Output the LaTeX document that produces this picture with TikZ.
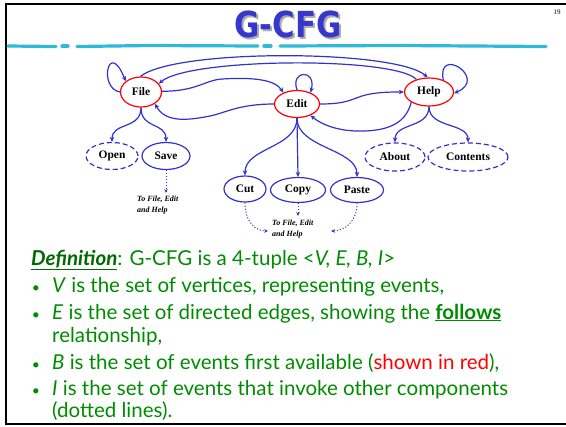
\documentclass[tikz,border=0pt]{standalone}
\usepackage{fontspec}
\setmainfont{Liberation Serif}
\newfontfamily\bodyfont{Lato}
\newfontfamily\titlefont{DejaVu Sans}
\usetikzlibrary{arrows.meta,shapes.geometric}
\definecolor{eblue}{RGB}{51,51,204}
\definecolor{ered}{RGB}{255,0,0}
\definecolor{tgreen}{RGB}{0,140,0}
\definecolor{dgreen}{RGB}{0,105,0}
\definecolor{tblue}{RGB}{55,55,205}
\definecolor{cyanl}{RGB}{45,185,215}
\newcommand{\titletext}{\titlefont\bfseries\fontsize{36}{36}\selectfont\scalebox{0.86}[1]{G-CFG}}
\tikzset{
  ev/.style={ellipse, draw=eblue, line width=1.2bp, inner sep=0pt, font=\fontsize{11.5}{12}\selectfont\bfseries},
  first/.style={ev, draw=ered},
  ext/.style={ev, dash pattern=on 5bp off 3bp},
  edge/.style={draw=eblue, line width=1.2bp, -{Stealth[length=5bp,width=4.5bp]}},
  inv/.style={draw=eblue, line width=0.9bp, dash pattern=on 1.2bp off 1.8bp, -{Stealth[length=4bp,width=3.5bp]}},
  lab/.style={inner sep=0pt, align=left, font=\fontsize{8}{11}\selectfont\bfseries\itshape},
  body/.style={inner sep=0pt, anchor=base west, text=tgreen, font=\bodyfont\fontsize{20.6}{24}\selectfont},
  bul/.style={inner sep=0pt, anchor=base, text=tgreen, font=\bodyfont\fontsize{14}{16}\selectfont},
  cyanseg/.style={draw=cyanl, line width=3.2bp, line cap=round}
}
\begin{document}
\begin{tikzpicture}[x=1bp,y=-1bp]
\useasboundingbox (0,0) rectangle (566,426);
% frame
\draw[line width=2bp] (566,4) -- (6,4) -- (6,423.5) -- (566,423.5);
% page number
\node[inner sep=0pt, font=\fontsize{7}{7}\selectfont] (pg) at (557,12) {19};
% title with shadow
\node[inner sep=0pt, text=tblue] (title) at (288,25) {\rlap{\hspace{2bp}\raisebox{-2bp}{\textcolor{gray!65}{\titletext}}}\titletext};
% cyan rule
\draw[cyanseg] (8,46) -- (56,46.5);
\draw[cyanseg] (62,46) -- (68,46);
\draw[cyanseg] (77,46.5) -- (150,45.5) -- (258,46);
\draw[cyanseg] (264,46) -- (271,46);
\draw[cyanseg] (280,46) -- (400,45.5) -- (546,46.5);
% nodes
\node[first, minimum width=41bp, minimum height=30bp] (file) at (141,92) {File};
\node[first, minimum width=45bp, minimum height=27bp] (edit) at (297,104) {Edit};
\node[first, minimum width=49bp, minimum height=28bp] (help) at (429,92) {Help};
\node[ext, minimum width=52bp, minimum height=27bp] (open) at (112,156) {Open};
\node[ev, minimum width=48bp, minimum height=27bp] (save) at (166,156) {Save};
\node[ev, minimum width=42bp, minimum height=26bp] (cut) at (245,189) {Cut};
\node[ev, minimum width=55bp, minimum height=25bp] (copy) at (298,190) {Copy};
\node[ev, minimum width=53bp, minimum height=25bp] (paste) at (357,190) {Paste};
\node[ext, minimum width=60bp, minimum height=28bp] (about) at (395,157) {About};
\node[ext, minimum width=80bp, minimum height=28bp] (contents) at (468,157) {Contents};
% labels
\node[lab, anchor=north west] (lab1) at (137,196) {To File, Edit\\and Help};
\node[lab, anchor=north west] (lab2) at (272,220) {To File, Edit\\and Help};
% solid edges
\draw[edge] (file.180) .. controls +(-22,-4) and +(-17,-43) .. (file.145);
\draw[edge] (edit.90) .. controls +(-7,-20) and +(6,-24) .. (edit.40);
\draw[edge] (help.40) .. controls +(-7,-35) and +(35,-15) .. (help.-3);
\draw[edge] (file.92) .. controls +(35,-28) and +(-32,-28) .. (help.95);
\draw[edge] (help.135) .. controls +(-22,-23) and +(30,-26) .. (file.25);
\draw[edge] (file.2) .. controls +(35,0) and (205,80) .. (222,79) .. controls (255,77) and (275,80) .. (edit.140);
\draw[edge] (edit.180) .. controls +(-35,0) and (225,113) .. (210,116) .. controls (185,121) and (165,122) .. (file.-40);
\draw[edge] (edit.0) .. controls +(25,0) and (350,100) .. (362,96) .. controls (375,92) and (390,92) .. (help.180);
\draw[edge] (help.210) .. controls +(-5,20) and (390,130) .. (365,131) .. controls (340,132) and (322,125) .. (edit.-40);
\draw[edge] (file.-90) .. controls +(0,22) and +(0,-20) .. (open.90);
\draw[edge] (file.-90) .. controls +(0,22) and +(0,-20) .. (save.90);
\draw[edge] (edit.-90) .. controls +(0,30) and +(0,-28) .. (cut.90);
\draw[edge] (edit.-90) -- (copy.90);
\draw[edge] (edit.-90) .. controls +(0,30) and +(0,-28) .. (paste.90);
\draw[edge] (help.-90) .. controls +(0,22) and +(0,-20) .. (about.90);
\draw[edge] (help.-90) .. controls +(0,22) and +(0,-20) .. (contents.90);
% dotted invocation edges
\coordinate (d1) at (166,193);
\coordinate (d2) at (268,231);
\coordinate (d3) at (298,216);
\coordinate (d4) at (331,231);
\draw[inv] (save.south) -- (d1);
\draw[inv] (cut.south) .. controls +(0,20) and +(-12,0) .. (d2);
\draw[inv] (copy.south) -- (d3);
\draw[inv] (paste.south) .. controls +(0,20) and +(12,0) .. (d4);
% text
\node[body] (l0) at (31,265) {\textcolor{dgreen}{\underline{\textbf{\textit{Definition}}}}: G-CFG is a 4-tuple <\textit{V, E, B, I}>};
\node[bul] (b1) at (36,292) {•};
\node[body] (l1) at (52,292) {\textit{V} is the set of vertices, representing events,};
\node[bul] (b2) at (36,319) {•};
\node[body] (l2) at (52,319) {\textit{E} is the set of directed edges, showing the \underline{\textbf{follows}}};
\node[body] (l2b) at (52,342) {relationship,};
\node[bul] (b3) at (36,369) {•};
\node[body] (l3) at (52,369) {\textit{B} is the set of events first available (\textcolor{ered}{shown in red}),};
\node[bul] (b4) at (36,395) {•};
\node[body] (l4) at (52,395) {\textit{I} is the set of events that invoke other components};
\node[body] (l4b) at (52,417) {(dotted lines).};
\end{tikzpicture}
\end{document}
